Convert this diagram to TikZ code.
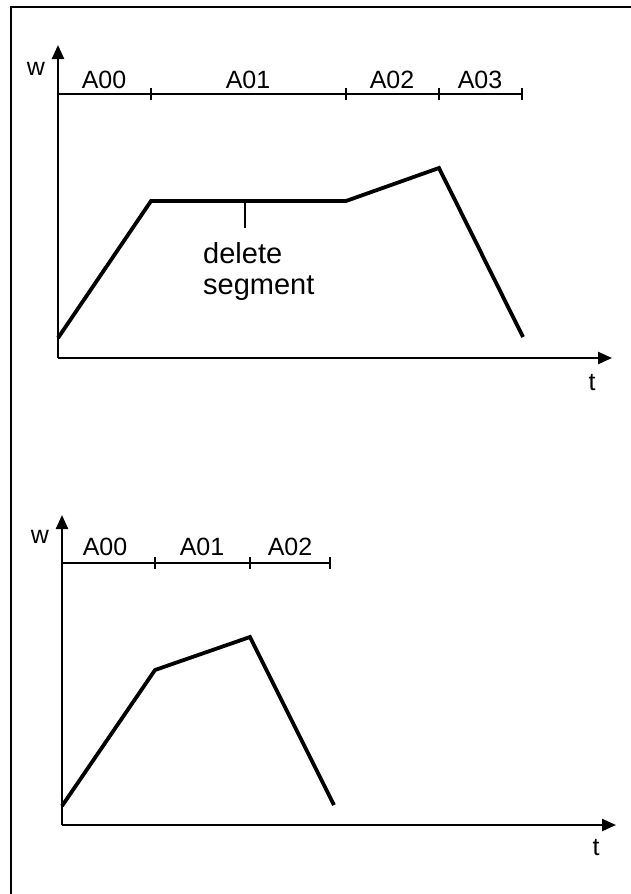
\documentclass[tikz,border=0pt]{standalone}
\usepackage{fontspec}
\setmainfont{Liberation Sans}
\usetikzlibrary{arrows.meta}
\begin{document}
\begin{tikzpicture}[x=1pt,y=-1pt,
  axisline/.style={line width=2.4pt, -{Triangle[length=14pt,width=12pt]}},
  segline/.style={line width=2pt},
  tickmark/.style={line width=1.8pt},
  wcurve/.style={line width=3.8pt, line join=miter},
  frameline/.style={line width=1.4pt},
  seglabel/.style={font=\fontsize{25}{30}\selectfont, anchor=base, inner sep=0pt},
  notelabel/.style={font=\fontsize{29}{31}\selectfont, align=left, anchor=north west, inner sep=0pt}]
\useasboundingbox (0,0) rectangle (631,894);

% frame
\coordinate (fr1) at (631,7);
\coordinate (fr2) at (11,7);
\coordinate (fr3) at (11,894);
\draw[frameline] (fr1) -- (fr2) -- (fr3);

% ---------- top graph ----------
\coordinate (o1) at (58,358);
\coordinate (yt1) at (58,45);
\coordinate (xt1) at (612,358);
\draw[axisline] (o1) -- (yt1);
\draw[axisline] (o1) -- (xt1);
\node[seglabel] (w1) at (36,75) {w};
\node[seglabel] (t1) at (592,390) {t};

\coordinate (s10) at (58,94);
\coordinate (s11) at (151,94);
\coordinate (s12) at (346,94);
\coordinate (s13) at (439,94);
\coordinate (s14) at (522,94);
\draw[segline] (s10) -- (s14);
\foreach \p in {s11,s12,s13,s14}
  \draw[tickmark] ([yshift=-6pt]\p) -- ([yshift=6pt]\p);
\node[seglabel] (a10) at (104,88) {A00};
\node[seglabel] (a11) at (248,88) {A01};
\node[seglabel] (a12) at (392,88) {A02};
\node[seglabel] (a13) at (480,88) {A03};

\coordinate (c10) at (58,338);
\coordinate (c11) at (151,201);
\coordinate (c12) at (346,201);
\coordinate (c13) at (439,168);
\coordinate (c14) at (523,337);
\draw[wcurve] (c10) -- (c11) -- (c12) -- (c13) -- (c14);

\coordinate (d1) at (245,201);
\coordinate (d2) at (245,228);
\draw[tickmark] (d1) -- (d2);
\node[notelabel] (del) at (203,242) {delete\\segment};

% ---------- bottom graph ----------
\coordinate (o2) at (62,825);
\coordinate (yt2) at (62,515);
\coordinate (xt2) at (616,825);
\draw[axisline] (o2) -- (yt2);
\draw[axisline] (o2) -- (xt2);
\node[seglabel] (w2) at (40,543) {w};
\node[seglabel] (t2) at (596,855) {t};

\coordinate (s20) at (62,563);
\coordinate (s21) at (155,563);
\coordinate (s22) at (250,563);
\coordinate (s23) at (330,563);
\draw[segline] (s20) -- (s23);
\foreach \p in {s21,s22,s23}
  \draw[tickmark] ([yshift=-6pt]\p) -- ([yshift=6pt]\p);
\node[seglabel] (a20) at (105,555) {A00};
\node[seglabel] (a21) at (202,555) {A01};
\node[seglabel] (a22) at (290,555) {A02};

\coordinate (c20) at (62,806);
\coordinate (c21) at (155,670);
\coordinate (c22) at (250,637);
\coordinate (c23) at (334,805);
\draw[wcurve] (c20) -- (c21) -- (c22) -- (c23);
\end{tikzpicture}
\end{document}
